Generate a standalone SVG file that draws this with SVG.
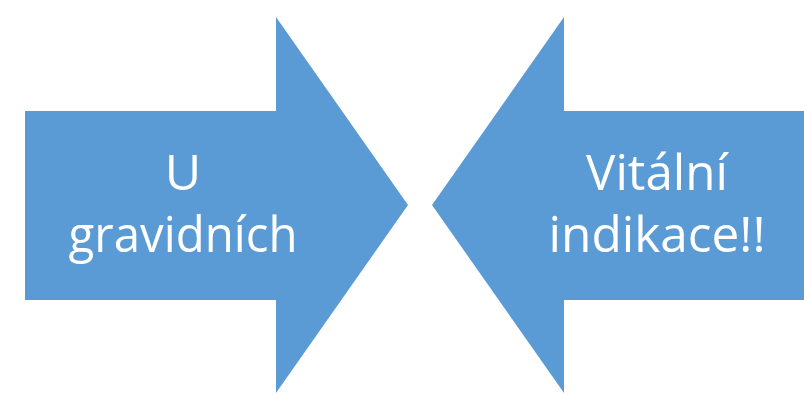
<svg xmlns="http://www.w3.org/2000/svg" width="804" height="396" viewBox="0 0 804 396">
  <style>
    .arrow { fill: #5B9BD5; }
    .label { fill: #FFFFFF; font-family: "Open Sans", "Noto Sans", "DejaVu Sans", sans-serif; font-size: 50px; text-anchor: middle; }
  </style>
  <rect width="804" height="396" fill="#FFFFFF"/>
  <g id="left-arrow">
    <polygon class="arrow" points="25,111 276,111 276,17 408,205 276,393 276,300 25,300"/>
    <text class="label" x="183" y="190">U</text>
    <text class="label" x="183" y="252" textLength="229" lengthAdjust="spacingAndGlyphs">gravidních</text>
  </g>
  <g id="right-arrow">
    <polygon class="arrow" points="804,111 564,111 564,17 432,205 564,393 564,300 804,300"/>
    <text class="label" x="657" y="190" textLength="142" lengthAdjust="spacingAndGlyphs">Vitální</text>
    <text class="label" x="657" y="252" textLength="217" lengthAdjust="spacingAndGlyphs">indikace!!</text>
  </g>
</svg>
